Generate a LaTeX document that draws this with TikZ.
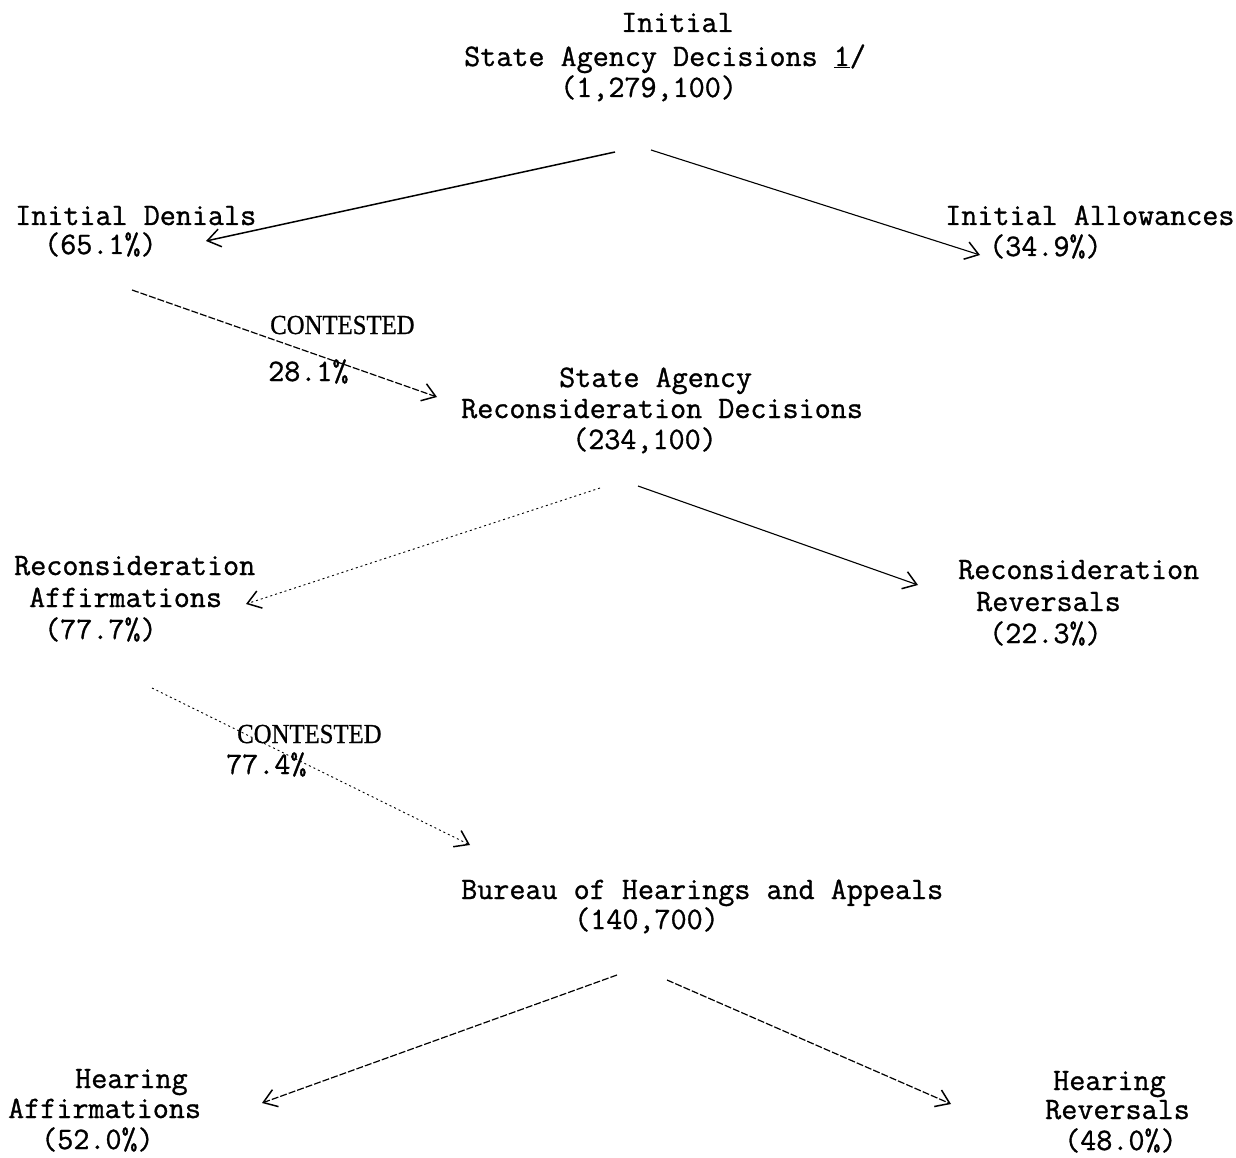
\documentclass[tikz,border=0pt]{standalone}
\usepackage{fontspec}
\setmonofont{Latin Modern Mono}[FakeBold=1.0]
\newfontfamily\labelfont{Liberation Serif}[FakeStretch=0.9,FakeBold=0.8]
\usetikzlibrary{arrows.meta}
\tikzset{
  tw/.style={font=\fontsize{31.2}{33}\selectfont\ttfamily, anchor=base west, inner sep=0pt},
  lbl/.style={font=\fontsize{27.5}{30}\selectfont\labelfont, anchor=base west, inner sep=0pt},
  tip/.style={-{Straight Barb[length=13pt,width=18pt,line width=1.5pt]}},
  solidarrow/.style={tip, line width=1.5pt},
  thinarrow/.style={tip, line width=1.1pt},
  dashedarrow/.style={tip, line width=1.2pt, dash pattern=on 7pt off 2pt},
  faintarrow/.style={tip, line width=0.9pt, dash pattern=on 2pt off 3pt},
}
\begin{document}
\begin{tikzpicture}[x=1pt,y=-1pt]
\fill[white] (0,0) rectangle (1236,1158);
\useasboundingbox (0,0) rectangle (1236,1158);

% top block
\node[tw] (top1) at (621,32) {Initial};
\node[tw] (top2) at (464,66) {State Agency Decisions \underline{1}/};
\node[tw] (top3) at (560,97) {(1,279,100)};

% initial denials / allowances
\node[tw] (den1) at (15,225) {Initial Denials};
\node[tw] (den2) at (44,254) {(65.1\%)};
\node[tw] (all1) at (945,225) {Initial Allowances};
\node[tw] (all2) at (989,256) {(34.9\%)};

% contested 1
\node[lbl] (con1) at (270,334) {CONTESTED};
\node[tw] (pct1) at (268,381) {28.1\%};

% reconsideration
\node[tw] (rec1) at (559,387) {State Agency};
\node[tw] (rec2) at (461,418) {Reconsideration Decisions};
\node[tw] (rec3) at (572,449) {(234,100)};

\node[tw] (ra1) at (14,575) {Reconsideration};
\node[tw] (ra2) at (29,607) {Affirmations};
\node[tw] (ra3) at (44,639) {(77.7\%)};

\node[tw] (rr1) at (958,579) {Reconsideration};
\node[tw] (rr2) at (976,611) {Reversals};
\node[tw] (rr3) at (989,643) {(22.3\%)};

% contested 2
\node[lbl] (con2) at (237,743) {CONTESTED};
\node[tw] (pct2) at (226,774) {77.4\%};

% bureau
\node[tw] (bu1) at (461,899) {Bureau of Hearings and Appeals};
\node[tw] (bu2) at (574,929) {(140,700)};

\node[tw] (ha1) at (75,1088) {Hearing};
\node[tw] (ha2) at (8,1118) {Affirmations};
\node[tw] (ha3) at (41,1149) {(52.0\%)};

\node[tw] (hr1) at (1053,1090) {Hearing};
\node[tw] (hr2) at (1045,1119) {Reversals};
\node[tw] (hr3) at (1064,1150) {(48.0\%)};

% connector end points
\coordinate (a1s) at (615,152);
\coordinate (a1e) at (206,241);
\coordinate (a2s) at (651,150);
\coordinate (a2e) at (980,255);
\coordinate (a3s) at (132,290);
\coordinate (a3e) at (437,397);
\coordinate (a4s) at (600,488);
\coordinate (a4e) at (246,604);
\coordinate (a5s) at (638,486);
\coordinate (a5e) at (918,585);
\coordinate (a6s) at (152,688);
\coordinate (a6e) at (470,845);
\coordinate (a7s) at (617,975);
\coordinate (a7e) at (262,1103);
\coordinate (a8s) at (667,980);
\coordinate (a8e) at (951,1104);

\draw[solidarrow] (a1s) -- (a1e);
\draw[thinarrow] (a2s) -- (a2e);
\draw[dashedarrow] (a3s) -- (a3e);
\draw[faintarrow] (a4s) -- (a4e);
\draw[thinarrow] (a5s) -- (a5e);
\draw[faintarrow] (a6s) -- (a6e);
\draw[dashedarrow] (a7s) -- (a7e);
\draw[dashedarrow] (a8s) -- (a8e);
\end{tikzpicture}
\end{document}
